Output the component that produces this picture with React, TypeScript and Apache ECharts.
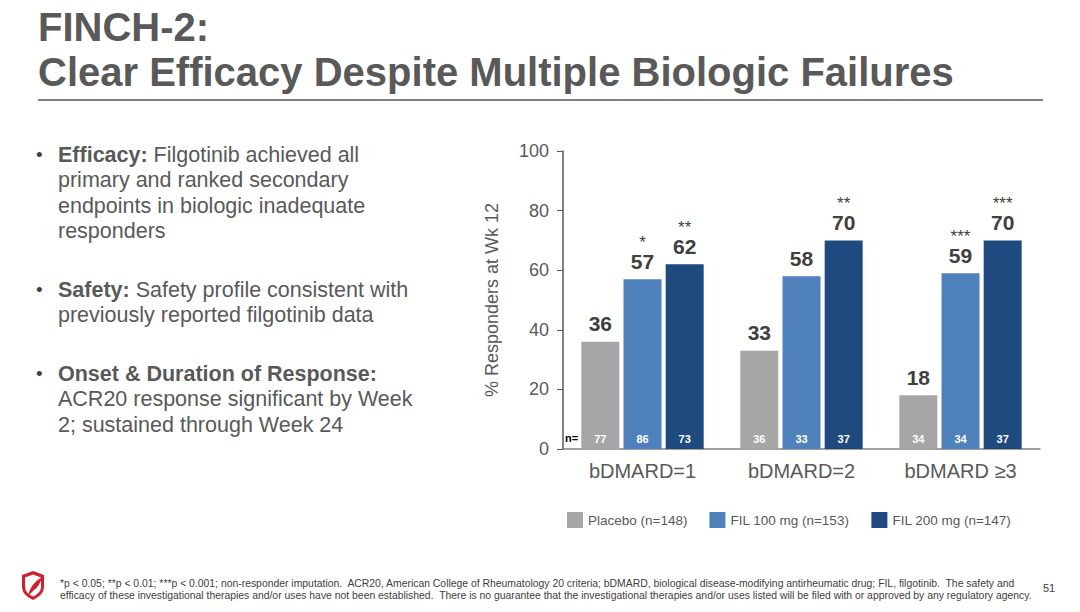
import React, { useEffect, useRef } from "react";
import * as echarts from "echarts";

const categories = ["bDMARD=1", "bDMARD=2", "bDMARD \u22653"];
const seriesNames = ["Placebo (n=148)", "FIL 100 mg (n=153)", "FIL 200 mg (n=147)"];
const placebo = [36, 33, 18];
const fil100 = [57, 58, 59];
const fil200 = [62, 70, 70];
const nPlacebo = [77, 36, 34];
const nFil100 = [86, 33, 34];
const nFil200 = [73, 37, 37];
const starsPlacebo = ["", "", ""];
const starsFil100 = ["*", "", "***"];
const starsFil200 = ["**", "**", "***"];
const yTicks = [0, 20, 40, 60, 80, 100];
const colors = ["#A6A6A6", "#4F81BD", "#1F4A80"];

const GRAY = "#595959";
const DARK = "#404040";
const NARROW = "'Liberation Sans Narrow', 'Arial Narrow', 'Liberation Sans', Arial, sans-serif";
const SANS = "'Liberation Sans', Arial, sans-serif";

echarts.graphic.registerShape(
  "shield",
  echarts.graphic.extendPath("M0 4 L11 0 L22 4 L22 16 Q22 24 11 29 Q0 24 0 16 Z", {})
);
echarts.graphic.registerShape(
  "feather",
  echarts.graphic.extendPath("M4 22 Q6 10 18 3 Q16 12 9 17 Q7 19 4 22 Z", {})
);

export default function App() {
  const ref = useRef<HTMLDivElement>(null);
  useEffect(() => {
    document.body.style.margin = "0";
    const chart = echarts.init(ref.current!, null, { renderer: "svg" });
    const values = [placebo, fil100, fil200];
    const ns = [nPlacebo, nFil100, nFil200];
    const stars = [starsPlacebo, starsFil100, starsFil200];
    const barCommon = {
      barWidth: 38,
      barGap: "11%",
      barCategoryGap: "24%",
    };
    const mainSeries = values.map((arr, si) => ({
      type: "bar",
      name: seriesNames[si],
      data: arr,
      xAxisIndex: 0,
      ...barCommon,
      itemStyle: { color: colors[si] },
      label: {
        show: true,
        position: "top",
        distance: 6,
        formatter: (p: any) =>
          stars[si][p.dataIndex]
            ? `{s|${stars[si][p.dataIndex]}}\n{v|${p.value}}`
            : `{v|${p.value}}`,
        rich: {
          s: { fontSize: 17, color: DARK, fontFamily: SANS, lineHeight: 14, align: "center" },
          v: { fontSize: 21, fontWeight: "bold", color: DARK, fontFamily: SANS, lineHeight: 24, align: "center" },
        },
      },
    }));
    const nSeries = values.map((arr, si) => ({
      type: "bar",
      name: "n" + si,
      data: arr,
      xAxisIndex: 1,
      ...barCommon,
      silent: true,
      itemStyle: { color: "rgba(0,0,0,0)" },
      label: {
        show: true,
        position: "insideBottom",
        distance: 5,
        formatter: (p: any) => String(ns[si][p.dataIndex]),
        fontSize: 11,
        fontWeight: "bold",
        color: "#ffffff",
        fontFamily: SANS,
      },
    }));

    const bullets = [
      { y: 142, head: "Efficacy:", body: " Filgotinib achieved all\nprimary and ranked secondary\nendpoints in biologic inadequate\nresponders" },
      { y: 277, head: "Safety:", body: " Safety profile consistent with\npreviously reported filgotinib data" },
      { y: 361, head: "Onset & Duration of Response:", body: "\nACR20 response significant by Week\n2; sustained through Week 24" },
    ];

    const graphics: any[] = [
      {
        type: "text",
        left: 38,
        top: 4,
        style: {
          text: "FINCH-2:\nClear Efficacy Despite Multiple Biologic Failures",
          fontSize: 40,
          fontWeight: "bold",
          fontFamily: NARROW,
          fill: GRAY,
          lineHeight: 45,
        },
      },
      {
        type: "line",
        shape: { x1: 38, y1: 100, x2: 1043, y2: 100 },
        style: { stroke: "#808080", lineWidth: 2 },
      },
      {
        type: "text",
        left: 565,
        top: 432,
        style: { text: "n=", fontSize: 11, fontWeight: "bold", fill: "#000000", fontFamily: SANS },
      },
      {
        type: "text",
        left: 60,
        top: 577,
        style: {
          text:
            "*p < 0.05; **p < 0.01; ***p < 0.001; non-responder imputation.  ACR20, American College of Rheumatology 20 criteria; bDMARD, biological disease-modifying antirheumatic drug; FIL, filgotinib.  The safety and\nefficacy of these investigational therapies and/or uses have not been established.  There is no guarantee that the investigational therapies and/or uses listed will be filed with or approved by any regulatory agency.",
          fontSize: 10.4,
          fontFamily: NARROW,
          fill: DARK,
          lineHeight: 12,
        },
      },
      {
        type: "text",
        left: 1043,
        top: 582,
        style: { text: "51", fontSize: 11, fontFamily: NARROW, fill: DARK },
      },
      {
        type: "shield",
        x: 22,
        y: 571,
        style: { fill: "#D0202E" },
      },
      {
        type: "shield",
        x: 25,
        y: 574.5,
        scaleX: 16 / 22,
        scaleY: 22 / 29,
        style: { fill: "#ffffff" },
      },
      {
        type: "feather",
        x: 24,
        y: 574,
        style: { fill: "#D0202E" },
      },
    ];
    bullets.forEach((b) => {
      graphics.push({
        type: "text",
        left: 36,
        top: b.y,
        style: { text: "\u2022", fontSize: 19, fontFamily: SANS, fill: DARK, lineHeight: 25.5 },
      });
      graphics.push({
        type: "text",
        left: 58,
        top: b.y,
        style: {
          text: `{h|${b.head}}${b.body}`,
          fontSize: 21.5,
          fontFamily: SANS,
          fill: GRAY,
          lineHeight: 25.5,
          rich: {
            h: { fontSize: 21.5, fontWeight: "bold", fontFamily: SANS, fill: GRAY, lineHeight: 25.5 },
          },
        },
      });
    });

    chart.setOption({
      animation: false,
      grid: { left: 563, top: 151, width: 477, height: 298, containLabel: false },
      legend: {
        data: seriesNames,
        left: 562,
        top: 507,
        icon: "rect",
        itemWidth: 16,
        itemHeight: 16,
        itemGap: 22,
        textStyle: { fontSize: 13.5, color: GRAY, fontFamily: SANS },
      },
      xAxis: [
        {
          type: "category",
          data: categories,
          axisLine: { lineStyle: { color: "#7F7F7F", width: 1.5 } },
          axisTick: { show: false },
          axisLabel: { fontSize: 20, color: GRAY, fontFamily: SANS, margin: 12 },
        },
        {
          type: "category",
          data: categories,
          show: false,
          position: "bottom",
        },
      ],
      yAxis: {
        type: "value",
        min: 0,
        max: 100,
        interval: 20,
        name: "% Responders at Wk 12",
        nameLocation: "middle",
        nameGap: 62,
        nameRotate: 90,
        nameTextStyle: { fontSize: 18, color: GRAY, fontFamily: SANS },
        axisLine: { show: true, lineStyle: { color: "#595959", width: 1.5 } },
        axisTick: { show: true, inside: false, length: 6, lineStyle: { color: "#595959" } },
        splitLine: { show: false },
        axisLabel: {
          fontSize: 18,
          color: GRAY,
          fontFamily: SANS,
          margin: 14,
          formatter: (v: number) => (yTicks.includes(v) ? String(v) : ""),
        },
      },
      series: [...mainSeries, ...nSeries],
      graphic: graphics,
    });
    return () => chart.dispose();
  }, []);
  return <div ref={ref} style={{ width: 1080, height: 612, position: "absolute", left: 0, top: 0 }} />;
}
